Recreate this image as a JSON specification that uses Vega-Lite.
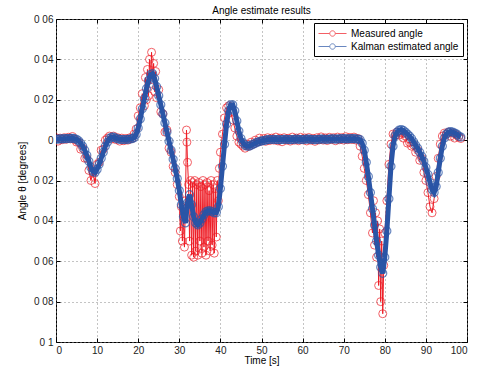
{
"$schema":"https://vega.github.io/schema/vega-lite/v6.json",
"width":411,"height":323,
"autosize":{"type":"none"},
"padding":{"left":56,"top":19,"right":10,"bottom":31},
"title":{"text":"Angle estimate results","fontSize":10,"fontWeight":"normal","font":"Liberation Sans","offset":6,"dy":8,"color":"#000"},
"config":{
"font":"Liberation Sans",
"view":{"stroke":"#000","strokeWidth":1},
"axis":{"domain":false,"gridColor":"#888","gridDash":[1,3],"gridOpacity":1,"gridWidth":1,"tickColor":"#000","tickSize":-4,"labelColor":"#222","labelFontSize":10,"titleFontSize":10,"titleFontWeight":"normal","titleColor":"#000","labelPadding":7}
},
"datasets":{
"m":[{"t":0,"v":0.0012},{"t":0.5,"v":-0.0005},{"t":1,"v":0.001},{"t":1.5,"v":0.0002},{"t":2,"v":0.0012},{"t":2.5,"v":0.0004},{"t":3,"v":0.0014},{"t":3.5,"v":0.0006},{"t":4,"v":0.0018},{"t":4.5,"v":0.0003},{"t":5,"v":-0.001},{"t":5.5,"v":-0.001},{"t":6,"v":-0.0045},{"t":6.5,"v":-0.004},{"t":7,"v":-0.009},{"t":7.5,"v":-0.009},{"t":8,"v":-0.015},{"t":8.5,"v":-0.02},{"t":9,"v":-0.016},{"t":9.5,"v":-0.0215},{"t":10,"v":-0.012},{"t":10.5,"v":-0.011},{"t":11,"v":-0.005},{"t":11.5,"v":-0.0045},{"t":12,"v":0},{"t":12.5,"v":0.001},{"t":13,"v":0.002},{"t":13.5,"v":0.0005},{"t":14,"v":0.002},{"t":14.5,"v":0.0003},{"t":15,"v":0.0012},{"t":15.5,"v":-0.0005},{"t":16,"v":0.001},{"t":16.5,"v":-0.0003},{"t":17,"v":0.0008},{"t":17.5,"v":0},{"t":18,"v":0.0012},{"t":18.5,"v":0.0008},{"t":19,"v":0.003},{"t":19.5,"v":0.0055},{"t":20,"v":0.012},{"t":20.5,"v":0.016},{"t":21,"v":0.023},{"t":21.5,"v":0.017},{"t":21.75,"v":0.031},{"t":22,"v":0.02},{"t":22.25,"v":0.035},{"t":22.5,"v":0.022},{"t":22.75,"v":0.04},{"t":23,"v":0.028},{"t":23.25,"v":0.0435},{"t":23.5,"v":0.03},{"t":23.75,"v":0.038},{"t":24,"v":0.024},{"t":24.25,"v":0.034},{"t":24.5,"v":0.021},{"t":25,"v":0.025},{"t":25.5,"v":0.014},{"t":26,"v":0.013},{"t":26.5,"v":0.004},{"t":27,"v":0.005},{"t":27.5,"v":-0.004},{"t":28,"v":-0.006},{"t":28.5,"v":-0.013},{"t":29,"v":-0.016},{"t":29.5,"v":-0.022},{"t":30,"v":-0.028},{"t":30.25,"v":-0.045},{"t":30.5,"v":-0.033},{"t":30.75,"v":-0.05},{"t":31,"v":-0.037},{"t":31.25,"v":-0.053},{"t":31.5,"v":-0.03},{"t":31.75,"v":0.005},{"t":31.85,"v":-0.001},{"t":32,"v":-0.011},{"t":32.25,"v":-0.022},{"t":32.5,"v":-0.05},{"t":32.75,"v":-0.02},{"t":33,"v":-0.057},{"t":33.25,"v":-0.021},{"t":33.5,"v":-0.058},{"t":33.75,"v":-0.02},{"t":34,"v":-0.055},{"t":34.25,"v":-0.022},{"t":34.5,"v":-0.057},{"t":34.75,"v":-0.021},{"t":35,"v":-0.05},{"t":35.25,"v":-0.023},{"t":35.5,"v":-0.056},{"t":35.75,"v":-0.02},{"t":36,"v":-0.053},{"t":36.25,"v":-0.022},{"t":36.5,"v":-0.057},{"t":36.75,"v":-0.021},{"t":37,"v":-0.05},{"t":37.25,"v":-0.025},{"t":37.5,"v":-0.055},{"t":37.75,"v":-0.02},{"t":38,"v":-0.052},{"t":38.25,"v":-0.022},{"t":38.5,"v":-0.056},{"t":38.75,"v":-0.024},{"t":39,"v":-0.048},{"t":39.25,"v":-0.02},{"t":39.5,"v":-0.03},{"t":39.75,"v":-0.014},{"t":40,"v":-0.006},{"t":40.5,"v":0.003},{"t":41,"v":0.011},{"t":41.5,"v":0.016},{"t":42,"v":0.017},{"t":42.5,"v":0.014},{"t":43,"v":0.01},{"t":43.5,"v":0.006},{"t":44,"v":0.002},{"t":44.5,"v":-0.001},{"t":45,"v":-0.002},{"t":45.5,"v":-0.003},{"t":46,"v":-0.004},{"t":46.5,"v":-0.002},{"t":47,"v":-0.003},{"t":47.5,"v":-0.001},{"t":48,"v":-0.002},{"t":48.5,"v":0},{"t":49,"v":-0.001},{"t":49.5,"v":0.001},{"t":50,"v":-0.0005},{"t":50.5,"v":0.0008},{"t":51,"v":-0.0006},{"t":51.5,"v":0.0012},{"t":52,"v":-0.0002},{"t":52.5,"v":0.001},{"t":53,"v":0},{"t":53.5,"v":0.0015},{"t":54,"v":-0.0004},{"t":54.5,"v":0.001},{"t":55,"v":-0.0008},{"t":55.5,"v":0.0012},{"t":56,"v":0},{"t":56.5,"v":0.0009},{"t":57,"v":-0.0005},{"t":57.5,"v":0.0015},{"t":58,"v":0},{"t":58.5,"v":0.001},{"t":59,"v":-0.0003},{"t":59.5,"v":0.0014},{"t":60,"v":0.0002},{"t":60.5,"v":0.0011},{"t":61,"v":-0.0004},{"t":61.5,"v":0.0013},{"t":62,"v":0},{"t":62.5,"v":0.0008},{"t":63,"v":-0.0006},{"t":63.5,"v":0.0012},{"t":64,"v":0.0001},{"t":64.5,"v":0.0016},{"t":65,"v":0},{"t":65.5,"v":0.0011},{"t":66,"v":-0.0002},{"t":66.5,"v":0.0014},{"t":67,"v":0.0003},{"t":67.5,"v":0.0012},{"t":68,"v":-0.0003},{"t":68.5,"v":0.0015},{"t":69,"v":0.0002},{"t":69.5,"v":0.0012},{"t":70,"v":0},{"t":70.5,"v":0.0017},{"t":71,"v":0.0002},{"t":71.5,"v":0.0013},{"t":72,"v":0.0003},{"t":72.5,"v":0.0015},{"t":73,"v":0},{"t":73.5,"v":0.0008},{"t":74,"v":-0.003},{"t":74.5,"v":-0.008},{"t":75,"v":-0.014},{"t":75.5,"v":-0.02},{"t":76,"v":-0.027},{"t":76.5,"v":-0.036},{"t":77,"v":-0.046},{"t":77.25,"v":-0.03},{"t":77.5,"v":-0.052},{"t":77.75,"v":-0.036},{"t":78,"v":-0.058},{"t":78.25,"v":-0.04},{"t":78.5,"v":-0.072},{"t":78.75,"v":-0.044},{"t":79,"v":-0.08},{"t":79.25,"v":-0.05},{"t":79.5,"v":-0.086},{"t":79.75,"v":-0.062},{"t":80,"v":-0.046},{"t":80.5,"v":-0.03},{"t":81,"v":-0.012},{"t":81.5,"v":-0.002},{"t":82,"v":0.003},{"t":82.5,"v":0.0025},{"t":83,"v":0.004},{"t":83.5,"v":0.0025},{"t":84,"v":0.0035},{"t":84.5,"v":0.001},{"t":85,"v":0.002},{"t":85.5,"v":-0.0015},{"t":86,"v":-0.001},{"t":86.5,"v":-0.003},{"t":87,"v":-0.0025},{"t":87.5,"v":-0.006},{"t":88,"v":-0.005},{"t":88.5,"v":-0.01},{"t":89,"v":-0.009},{"t":89.5,"v":-0.016},{"t":90,"v":-0.02},{"t":90.5,"v":-0.026},{"t":91,"v":-0.033},{"t":91.5,"v":-0.036},{"t":92,"v":-0.029},{"t":92.5,"v":-0.018},{"t":93,"v":-0.009},{"t":93.5,"v":-0.002},{"t":94,"v":0.002},{"t":94.5,"v":0.0035},{"t":95,"v":0.003},{"t":95.5,"v":0.004},{"t":96,"v":0.002},{"t":96.5,"v":0.0035},{"t":97,"v":0.001},{"t":97.5,"v":0.0025},{"t":98,"v":0.0015},{"t":98.5,"v":0.0008}],
"k":[{"t":0,"v":0.0005},{"t":0.5,"v":0.0005},{"t":1,"v":0.0006},{"t":1.5,"v":0.0006},{"t":2,"v":0.0007},{"t":2.5,"v":0.0007},{"t":3,"v":0.0008},{"t":3.5,"v":0.0009},{"t":4,"v":0.0009},{"t":4.5,"v":0.0007},{"t":5,"v":0.0004},{"t":5.5,"v":-0.0003},{"t":6,"v":-0.0015},{"t":6.5,"v":-0.003},{"t":7,"v":-0.005},{"t":7.5,"v":-0.0075},{"t":8,"v":-0.0105},{"t":8.5,"v":-0.0135},{"t":9,"v":-0.0155},{"t":9.5,"v":-0.016},{"t":10,"v":-0.0145},{"t":10.5,"v":-0.012},{"t":11,"v":-0.009},{"t":11.5,"v":-0.006},{"t":12,"v":-0.003},{"t":12.5,"v":-0.001},{"t":13,"v":0.0008},{"t":13.5,"v":0.0015},{"t":14,"v":0.0015},{"t":14.5,"v":0.001},{"t":15,"v":0.0006},{"t":15.5,"v":0.0004},{"t":16,"v":0.0003},{"t":16.5,"v":0.0003},{"t":17,"v":0.0003},{"t":17.5,"v":0.0004},{"t":18,"v":0.0005},{"t":18.5,"v":0.0007},{"t":19,"v":0.0012},{"t":19.5,"v":0.0028},{"t":20,"v":0.006},{"t":20.5,"v":0.0105},{"t":21,"v":0.0155},{"t":21.5,"v":0.0205},{"t":22,"v":0.0255},{"t":22.5,"v":0.0295},{"t":23,"v":0.0325},{"t":23.5,"v":0.033},{"t":24,"v":0.0305},{"t":24.5,"v":0.0265},{"t":25,"v":0.022},{"t":25.5,"v":0.0175},{"t":26,"v":0.013},{"t":26.5,"v":0.0085},{"t":27,"v":0.004},{"t":27.5,"v":-0.0005},{"t":28,"v":-0.005},{"t":28.5,"v":-0.0095},{"t":29,"v":-0.014},{"t":29.5,"v":-0.019},{"t":30,"v":-0.025},{"t":30.5,"v":-0.032},{"t":31,"v":-0.038},{"t":31.5,"v":-0.041},{"t":32,"v":-0.031},{"t":32.5,"v":-0.027},{"t":33,"v":-0.032},{"t":33.5,"v":-0.038},{"t":34,"v":-0.041},{"t":34.5,"v":-0.042},{"t":35,"v":-0.041},{"t":35.5,"v":-0.039},{"t":36,"v":-0.037},{"t":36.5,"v":-0.0355},{"t":37,"v":-0.035},{"t":37.5,"v":-0.035},{"t":38,"v":-0.0355},{"t":38.5,"v":-0.036},{"t":39,"v":-0.036},{"t":39.5,"v":-0.033},{"t":40,"v":-0.024},{"t":40.5,"v":-0.013},{"t":41,"v":-0.002},{"t":41.5,"v":0.008},{"t":42,"v":0.0145},{"t":42.5,"v":0.0175},{"t":43,"v":0.0175},{"t":43.5,"v":0.0145},{"t":44,"v":0.0095},{"t":44.5,"v":0.0045},{"t":45,"v":0.0008},{"t":45.5,"v":-0.0012},{"t":46,"v":-0.0025},{"t":46.5,"v":-0.003},{"t":47,"v":-0.003},{"t":47.5,"v":-0.0025},{"t":48,"v":-0.002},{"t":48.5,"v":-0.0015},{"t":49,"v":-0.001},{"t":49.5,"v":-0.0007},{"t":50,"v":-0.0004},{"t":50.5,"v":-0.0002},{"t":51,"v":0},{"t":51.5,"v":0.0002},{"t":52,"v":0.0003},{"t":52.5,"v":0.0003},{"t":53,"v":0.0004},{"t":53.5,"v":0.0003},{"t":54,"v":0.0002},{"t":54.5,"v":0.0002},{"t":55,"v":0.0003},{"t":55.5,"v":0.0004},{"t":56,"v":0.0004},{"t":56.5,"v":0.0003},{"t":57,"v":0.0002},{"t":57.5,"v":0.0003},{"t":58,"v":0.0004},{"t":58.5,"v":0.0005},{"t":59,"v":0.0004},{"t":59.5,"v":0.0003},{"t":60,"v":0.0003},{"t":60.5,"v":0.0004},{"t":61,"v":0.0005},{"t":61.5,"v":0.0005},{"t":62,"v":0.0004},{"t":62.5,"v":0.0003},{"t":63,"v":0.0002},{"t":63.5,"v":0.0003},{"t":64,"v":0.0004},{"t":64.5,"v":0.0005},{"t":65,"v":0.0005},{"t":65.5,"v":0.0004},{"t":66,"v":0.0004},{"t":66.5,"v":0.0005},{"t":67,"v":0.0006},{"t":67.5,"v":0.0006},{"t":68,"v":0.0005},{"t":68.5,"v":0.0005},{"t":69,"v":0.0006},{"t":69.5,"v":0.0007},{"t":70,"v":0.0007},{"t":70.5,"v":0.0006},{"t":71,"v":0.0006},{"t":71.5,"v":0.0007},{"t":72,"v":0.0007},{"t":72.5,"v":0.0007},{"t":73,"v":0.0006},{"t":73.5,"v":0.0005},{"t":74,"v":0.0002},{"t":74.5,"v":-0.0015},{"t":75,"v":-0.005},{"t":75.5,"v":-0.011},{"t":76,"v":-0.018},{"t":76.5,"v":-0.026},{"t":77,"v":-0.034},{"t":77.5,"v":-0.042},{"t":78,"v":-0.05},{"t":78.5,"v":-0.057},{"t":79,"v":-0.063},{"t":79.5,"v":-0.066},{"t":80,"v":-0.058},{"t":80.5,"v":-0.045},{"t":81,"v":-0.029},{"t":81.5,"v":-0.013},{"t":82,"v":-0.003},{"t":82.5,"v":0.002},{"t":83,"v":0.004},{"t":83.5,"v":0.005},{"t":84,"v":0.0052},{"t":84.5,"v":0.0048},{"t":85,"v":0.004},{"t":85.5,"v":0.003},{"t":86,"v":0.002},{"t":86.5,"v":0.0008},{"t":87,"v":-0.0008},{"t":87.5,"v":-0.0025},{"t":88,"v":-0.004},{"t":88.5,"v":-0.006},{"t":89,"v":-0.008},{"t":89.5,"v":-0.0105},{"t":90,"v":-0.0135},{"t":90.5,"v":-0.017},{"t":91,"v":-0.021},{"t":91.5,"v":-0.0245},{"t":92,"v":-0.026},{"t":92.5,"v":-0.023},{"t":93,"v":-0.016},{"t":93.5,"v":-0.009},{"t":94,"v":-0.003},{"t":94.5,"v":0.001},{"t":95,"v":0.003},{"t":95.5,"v":0.004},{"t":96,"v":0.0042},{"t":96.5,"v":0.004},{"t":97,"v":0.0035},{"t":97.5,"v":0.003},{"t":98,"v":0.002},{"t":98.5,"v":0.0015}]
},
"layer":[
{
"encoding":{
"x":{"field":"t","type":"quantitative","scale":{"domain":[0,100],"nice":false,"zero":false,"padding":0},"axis":{"values":[0,10,20,30,40,50,60,70,80,90,100],"title":"Time [s]","titlePadding":0}},
"y":{"field":"v","type":"quantitative","scale":{"domain":[-0.1,0.06],"nice":false,"zero":false,"padding":0},"axis":{"values":[-0.1,-0.08,-0.06,-0.04,-0.02,0,0.02,0.04,0.06],"labelExpr":"datum.value == 0 ? '0' : replace(format(abs(datum.value), '.2~f'), '.', ' ')","title":"Angle θ [degrees]","titlePadding":6}}
},
"layer":[
{"data":{"name":"m"},"mark":{"type":"line","strokeWidth":1,"clip":true},
"encoding":{"color":{"datum":"Measured angle","scale":{"domain":["Measured angle","Kalman estimated angle"],"range":["#ee1c25","#2a55a6"]},
"legend":{"title":null,"orient":"top-right","offset":4,"strokeColor":"#000","fillColor":"#fff","padding":4,"labelFontSize":10,"labelColor":"#000","labelOffset":20,"rowPadding":1,"symbolType":"M-1,0H0.88M1.79,0H3.67M1.79,0A0.45,0.45,0,1,1,0.88,0A0.45,0.45,0,1,1,1.79,0","symbolSize":144,"symbolStrokeWidth":1,"symbolFillColor":"transparent"}}}},
{"data":{"name":"m"},"mark":{"type":"point","filled":false,"size":64,"strokeWidth":1,"clip":true},
"encoding":{"color":{"datum":"Measured angle"}}},
{"data":{"name":"k"},"mark":{"type":"line","strokeWidth":5,"clip":true},
"encoding":{"color":{"datum":"Kalman estimated angle"}}},
{"data":{"name":"k"},"mark":{"type":"point","filled":false,"size":64,"strokeWidth":1.2,"clip":true},
"encoding":{"color":{"datum":"Kalman estimated angle"}}}
]
},
{
"data":{"name":"k"},
"mark":{"type":"point","opacity":0},
"encoding":{
"x":{"field":"t","type":"quantitative","scale":{"domain":[0,100],"nice":false,"zero":false,"padding":0},"axis":{"orient":"top","values":[0,10,20,30,40,50,60,70,80,90,100],"labels":false,"labelPadding":0,"grid":false,"title":null}},
"y":{"field":"v","type":"quantitative","scale":{"domain":[-0.1,0.06],"nice":false,"zero":false,"padding":0},"axis":{"orient":"right","values":[-0.1,-0.08,-0.06,-0.04,-0.02,0,0.02,0.04,0.06],"labels":false,"labelPadding":0,"grid":false,"title":null}}
}
}
],
"resolve":{"axis":{"x":"independent","y":"independent"}}
}
